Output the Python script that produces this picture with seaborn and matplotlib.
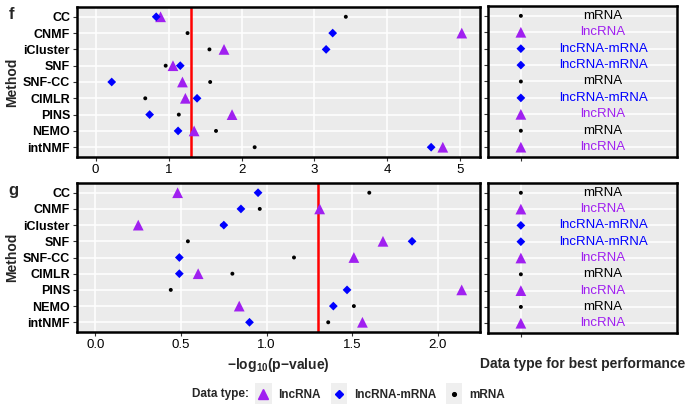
import numpy as np
import pandas as pd
import matplotlib
matplotlib.use("Agg")
import matplotlib.pyplot as plt
import seaborn as sns
from matplotlib.lines import Line2D
from matplotlib.patches import Rectangle
from matplotlib.legend_handler import HandlerBase

# ---------------- data ----------------
methods = ["CC", "CNMF", "iCluster", "SNF", "SNF-CC", "CIMLR", "PINS", "NEMO", "intNMF"]
types = ["mRNA", "lncRNA", "lncRNA-mRNA"]

# panel f : -log10(p-value)
f_mrna = [3.43, 1.26, 1.56, 0.96, 1.57, 0.68, 1.14, 1.65, 2.18]
f_lnc = [0.89, 5.02, 1.76, 1.06, 1.19, 1.23, 1.87, 1.35, 4.76]
f_lncm = [0.83, 3.25, 3.16, 1.16, 0.22, 1.39, 0.74, 1.13, 4.60]

# panel g : -log10(p-value)
g_mrna = [1.60, 0.96, 0.74, 0.54, 1.16, 0.80, 0.44, 1.51, 1.36]
g_lnc = [0.48, 1.31, 0.25, 1.68, 1.51, 0.60, 2.14, 0.84, 1.56]
g_lncm = [0.95, 0.85, 0.75, 1.85, 0.49, 0.49, 1.47, 1.39, 0.90]

threshold = -np.log10(0.05)

colors = {"lncRNA": "#A020F0", "lncRNA-mRNA": "#0000FF", "mRNA": "#000000"}
markers = {"lncRNA": "^", "lncRNA-mRNA": "D", "mRNA": "o"}
sizes = {"lncRNA": 60, "lncRNA-mRNA": 20, "mRNA": 8}


def long_df(mrna, lnc, lncm):
    rows = []
    for t, vals in zip(types, [mrna, lnc, lncm]):
        for m, v in zip(methods, vals):
            rows.append({"Method": m, "type": t, "value": v})
    return pd.DataFrame(rows)


def best_df(df):
    idx = df.groupby("Method", sort=False)["value"].idxmax()
    b = df.loc[idx].set_index("Method").loc[methods].reset_index()
    b["x"] = 0.0
    return b


df_f = long_df(f_mrna, f_lnc, f_lncm)
df_g = long_df(g_mrna, g_lnc, g_lncm)

# ---------------- style ----------------
sns.set_theme(style="darkgrid")
plt.rcParams["font.family"] = ["Liberation Sans", "DejaVu Sans"]
plt.rcParams["mathtext.fontset"] = "custom"
plt.rcParams["mathtext.bf"] = "Liberation Sans:bold"
plt.rcParams["mathtext.rm"] = "Liberation Sans:bold"

W, H = 685, 404
fig = plt.figure(figsize=(W / 100, H / 100), dpi=100)


def px_axes(x0, y0, x1, y1):
    return fig.add_axes([x0 / W, 1 - y1 / H, (x1 - x0) / W, (y1 - y0) / H])


def style_axes(ax):
    ax.set_facecolor("#EBEBEB")
    ax.grid(True, color="white", linewidth=1.1)
    ax.set_axisbelow(True)
    for s in ax.spines.values():
        s.set_visible(True)
        s.set_color("black")
        s.set_linewidth(1.8)
    ax.tick_params(axis="both", which="both", length=3, width=0.8, color="#333333",
                   direction="out", bottom=True, left=True, pad=2)


def main_panel(ax, df, xlim, xticks, xticklabels, letter):
    ax.axvline(threshold, color="#FF0000", linewidth=1.8, zorder=2)
    sns.scatterplot(data=df, x="value", y="Method", hue="type", style="type",
                    size="type", palette=colors, markers=markers, sizes=sizes,
                    linewidth=0, legend=False, ax=ax, zorder=3)
    style_axes(ax)
    ax.set_ylim(len(methods) - 1 + 0.6, -0.6)
    ax.set_yticks(range(len(methods)))
    ax.set_yticklabels(methods, fontsize=9, fontweight="bold", color="black")
    ax.set_xlim(*xlim)
    ax.set_xticks(xticks)
    ax.set_xticklabels(xticklabels, fontsize=9.5, color="black")
    ax.set_ylabel("Method", fontsize=10, fontweight="bold", labelpad=3)
    ax.set_xlabel("")
    ax.text(-0.17, 1.0, letter, transform=ax.transAxes, fontsize=12,
            fontweight="bold", va="top", ha="left")


def best_panel(ax, b):
    sns.scatterplot(data=b, x="x", y="Method", hue="type", style="type",
                    size="type", palette=colors, markers=markers, sizes=sizes,
                    linewidth=0, legend=False, ax=ax, zorder=3)
    style_axes(ax)
    ax.set_ylim(len(methods) - 1 + 0.6, -0.6)
    ax.set_yticks(range(len(methods)))
    ax.set_yticklabels([])
    ax.set_xlim(-0.2, 0.95)
    ax.set_xticks([0.0])
    ax.set_xticklabels([])
    ax.set_ylabel("")
    ax.set_xlabel("")
    for i, (t) in enumerate(b["type"]):
        ax.text(0.5, i, t, color=colors[t], fontsize=9.5, ha="center", va="center")


ax_f = px_axes(77, 7, 480, 157)
main_panel(ax_f, df_f, (-0.256, 5.27), [0, 1, 2, 3, 4, 5],
           ["0", "1", "2", "3", "4", "5"], "f")
ax_fb = px_axes(488, 6, 677, 157)
best_panel(ax_fb, best_df(df_f))

ax_g = px_axes(77, 183, 480, 332)
main_panel(ax_g, df_g, (-0.108, 2.247), [0, 0.5, 1.0, 1.5, 2.0],
           ["0.0", "0.5", "1.0", "1.5", "2.0"], "g")
ax_g.set_xlabel("\u2212log$_{\\mathbf{10}}$(p\u2212value)", fontsize=10,
                fontweight="bold", labelpad=4)
ax_gb = px_axes(488, 183, 677, 333)
best_panel(ax_gb, best_df(df_g))
ax_gb.set_xlabel("Data type for best performance", fontsize=10,
                 fontweight="bold", labelpad=12)


# ---------------- legend ----------------
class KeyHandler(HandlerBase):
    def create_artists(self, legend, orig_handle, xdescent, ydescent, width,
                       height, fontsize, trans):
        rect = Rectangle((-xdescent, -ydescent - 3), width, height + 6,
                         facecolor="#EFEFEF", edgecolor="none", transform=trans)
        mk = Line2D([width / 2 - xdescent], [height / 2 - ydescent],
                    marker=orig_handle.get_marker(),
                    color=orig_handle.get_color(),
                    markersize=orig_handle.get_markersize(),
                    linestyle="none", transform=trans)
        return [rect, mk]


leg_types = ["lncRNA", "lncRNA-mRNA", "mRNA"]
handles = [Line2D([], [], marker=markers[t], color=colors[t], linestyle="none",
                  markersize=np.sqrt(sizes[t]) * 0.95) for t in leg_types]
leg = fig.legend(handles, leg_types, loc="center left",
                 bbox_to_anchor=(255 / W, 1 - 394 / H), ncol=3, frameon=False,
                 handler_map={Line2D: KeyHandler()}, handlelength=1.4,
                 handleheight=1.2, handletextpad=0.6, columnspacing=0.8,
                 borderpad=0, borderaxespad=0,
                 prop={"family": "Liberation Sans", "weight": "bold", "size": 8.5})
fig.text(192 / W, 1 - 394 / H, "Data type:", fontsize=8.5, fontweight="bold",
         ha="left", va="center")

fig.savefig("out.png", dpi=100)
